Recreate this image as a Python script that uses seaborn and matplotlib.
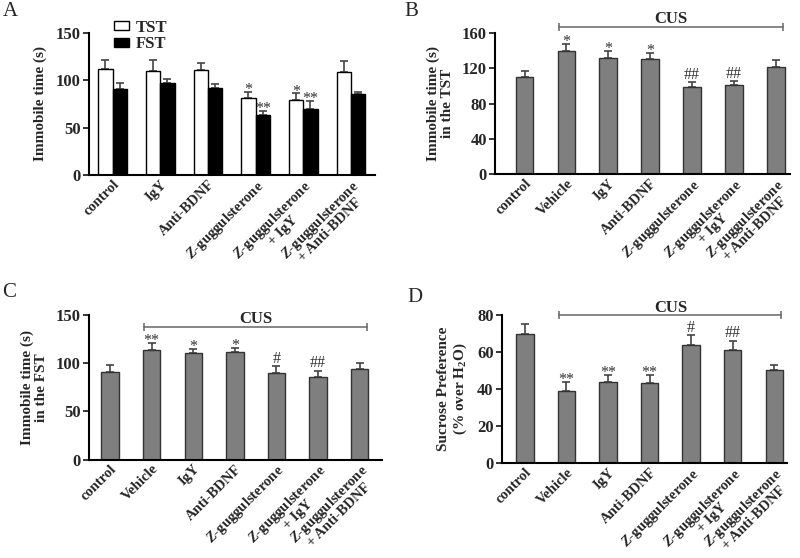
import matplotlib
matplotlib.use('Agg')
import numpy as np
import pandas as pd
import matplotlib.pyplot as plt
import seaborn as sns

# ---- data ----
groups_a = ['control', 'IgY', 'Anti-BDNF', 'Zg', 'Zg+IgY', 'Zg+Anti-BDNF']
labels_a = ['control', 'IgY', 'Anti-BDNF', '$Z$-guggulsterone',
            '$Z$-guggulsterone\n+ IgY', '$Z$-guggulsterone\n+ Anti-BDNF']
tst_mean = [112, 110, 111, 81, 79, 109]
tst_sem = [9, 11, 7, 7, 7, 11]
fst_mean = [91, 97, 92, 63, 70, 85]
fst_sem = [6, 4, 4, 5, 8, 3]
tst_marks = ['', '', '', '*', '*', '']
fst_marks = ['', '', '', '**', '**', '']

groups_cus = ['control', 'Vehicle', 'IgY', 'Anti-BDNF', 'Zg', 'Zg+IgY', 'Zg+Anti-BDNF']
labels_cus = ['control', 'Vehicle', 'IgY', 'Anti-BDNF', '$Z$-guggulsterone',
              '$Z$-guggulsterone\n+ IgY', '$Z$-guggulsterone\n+ Anti-BDNF']

tst_b = [110, 140, 132, 130, 99, 101, 121]
tst_b_sem = [7, 7, 8, 7, 5, 4, 8]
marks_b = ['', '*', '*', '*', '##', '##', '']

fst_c = [91, 114, 111, 112, 90, 86, 94]
fst_c_sem = [7, 7, 4, 4, 7, 6, 6]
marks_c = ['', '**', '*', '*', '#', '##', '']

sucrose_d = [70, 39, 44, 43.5, 64, 61, 50]
sucrose_d_sem = [5, 5, 3.5, 4, 5, 5, 3]
marks_d = ['', '**', '**', '**', '#', '##', '']

# ---- style ----
sns.set_style('ticks')
plt.rcParams['font.family'] = ['Liberation Serif', 'DejaVu Serif']
plt.rcParams['font.weight'] = 'bold'
plt.rcParams['axes.labelweight'] = 'bold'
plt.rcParams['mathtext.fontset'] = 'custom'
plt.rcParams['mathtext.rm'] = 'Liberation Serif:bold'
plt.rcParams['mathtext.bf'] = 'Liberation Serif:bold'
plt.rcParams['mathtext.it'] = 'Liberation Serif:italic:bold'

GREY = '#7f7f7f'
ERR = '#444444'


def style_axes(ax, ylim, yticks, xlim, ylabel, xlabels, labelsize=11):
    ax.set_ylim(*ylim)
    ax.set_yticks(yticks)
    ax.set_xlim(*xlim)
    sns.despine(ax=ax)
    for s in ('left', 'bottom'):
        ax.spines[s].set_linewidth(1.5)
        ax.spines[s].set_color('black')
    ax.tick_params(axis='y', direction='out', length=4, width=1.3, labelsize=12, pad=2)
    ax.tick_params(axis='x', length=0, pad=2)
    ax.set_xticks(range(len(xlabels)))
    ax.set_xticklabels(xlabels, rotation=45, ha='right', va='top',
                       rotation_mode='anchor', fontsize=10.5, linespacing=0.9,
                       multialignment='center')
    ax.set_xlabel('')
    ax.set_ylabel(ylabel, fontsize=labelsize, linespacing=1.1, labelpad=6)


def add_errors(ax, container, sems, marks):
    xs = [b.get_x() + b.get_width() / 2 for b in container]
    ys = [b.get_height() for b in container]
    ax.errorbar(xs, ys, yerr=[np.zeros(len(sems)), sems], fmt='none',
                ecolor=ERR, elinewidth=1.2, capsize=3, capthick=1.2, zorder=0.9)
    for x, y, e, m in zip(xs, ys, sems, marks):
        if m:
            off = 2.5 if '#' in m else -1.5
            ax.annotate(m, (x, y + e), xytext=(0, off), textcoords='offset points',
                        ha='center', va='baseline', fontsize=11.5,
                        fontweight='normal', color='#333333')


def add_cus(ax, y):
    ax.plot([0.82, 6.17], [y, y], color='#666666', lw=1.1, marker='|',
            markersize=6, markeredgewidth=1.1, clip_on=False)
    ax.annotate('CUS', (3.5, y), xytext=(0, 2.5), textcoords='offset points',
                ha='center', va='baseline', fontsize=12, annotation_clip=False)


def cus_panel(ax, values, sems, marks, ylim, yticks, xlim, ylabel, bracket_y):
    df = pd.DataFrame({'group': groups_cus, 'value': values})
    sns.barplot(data=df, x='group', y='value', color=GREY, saturation=1,
                width=0.42, edgecolor='#333333', linewidth=1, errorbar=None, ax=ax)
    add_errors(ax, ax.containers[0], sems, marks)
    style_axes(ax, ylim, yticks, xlim, ylabel, labels_cus)
    add_cus(ax, bracket_y)


fig = plt.figure(figsize=(8, 5.58), dpi=100)
ax_a = fig.add_axes([0.111, 0.686, 0.3575, 0.2556])
ax_b = fig.add_axes([0.619, 0.688, 0.369, 0.253])
ax_c = fig.add_axes([0.1116, 0.1765, 0.3655, 0.259])
ax_d = fig.add_axes([0.6275, 0.1704, 0.356, 0.265])

# panel A
df_a = pd.DataFrame({
    'group': groups_a * 2,
    'test': ['TST'] * len(groups_a) + ['FST'] * len(groups_a),
    'value': tst_mean + fst_mean,
})
sns.barplot(data=df_a, x='group', y='value', hue='test', palette=['white', 'black'],
            saturation=1, width=0.6, edgecolor='black', linewidth=1,
            errorbar=None, ax=ax_a)
add_errors(ax_a, ax_a.containers[0], tst_sem, tst_marks)
add_errors(ax_a, ax_a.containers[1], fst_sem, fst_marks)
style_axes(ax_a, (0, 150), [0, 50, 100, 150], (-0.5, 5.5), 'Immobile time (s)', labels_a)
sns.move_legend(ax_a, loc='upper left', bbox_to_anchor=(0.06, 1.15), frameon=False,
                title=None, fontsize=12, handlelength=0.9, handleheight=0.5,
                labelspacing=0.05, handletextpad=0.4, borderpad=0)

cus_panel(ax_b, tst_b, tst_b_sem, marks_b, (0, 160), [0, 40, 80, 120, 160],
          (-0.7, 6.35), 'Immobile time (s)\nin the TST', 167)
cus_panel(ax_c, fst_c, fst_c_sem, marks_c, (0, 150), [0, 50, 100, 150],
          (-0.5, 6.53), 'Immobile time (s)\nin the FST', 138)
cus_panel(ax_d, sucrose_d, sucrose_d_sem, marks_d, (0, 80), [0, 20, 40, 60, 80],
          (-0.55, 6.3), 'Sucrose Preference\n(% over $\\mathrm{H_2O}$)', 80)

for letter, (x, y) in zip('ABCD', [(0.003, 0.997), (0.505, 0.997),
                                   (0.003, 0.492), (0.509, 0.484)]):
    fig.text(x, y, letter, fontsize=15, fontweight='normal', va='top', ha='left')

fig.savefig('out.png', dpi=100)
